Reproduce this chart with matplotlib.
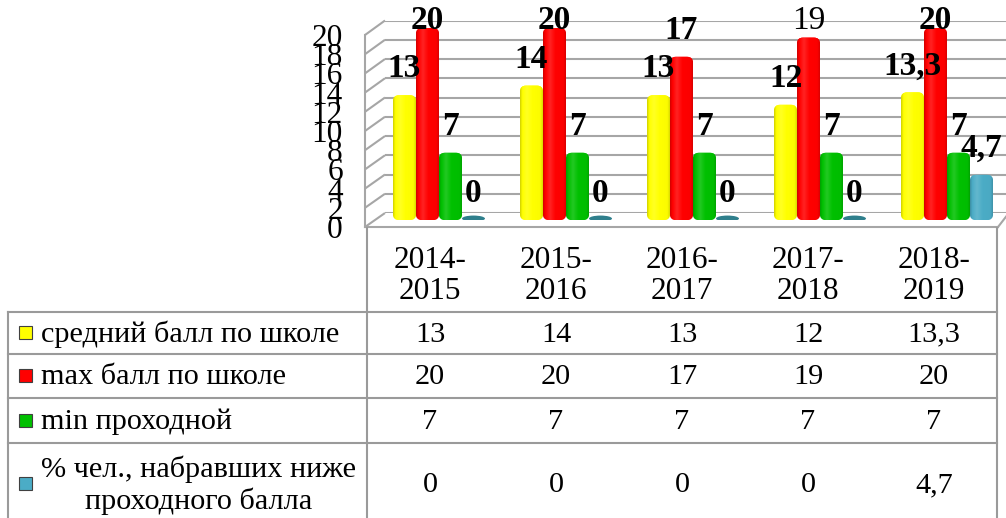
import numpy as np
import matplotlib
matplotlib.use("Agg")
import matplotlib.pyplot as plt
from matplotlib.patches import FancyBboxPatch, Ellipse, Rectangle
from matplotlib.colors import to_rgb

# ---------------- data ----------------
years = ["2014-\n2015", "2015-\n2016", "2016-\n2017", "2017-\n2018", "2018-\n2019"]
series_names = ["средний балл по школе", "max балл по школе", "min проходной",
                "% чел., набравших ниже\nпроходного балла"]
avg_score = [13, 14, 13, 12, 13.3]
max_score = [20, 20, 17, 19, 20]
min_pass = [7, 7, 7, 7, 7]
pct_below = [0, 0, 0, 0, 4.7]
series = [avg_score, max_score, min_pass, pct_below]
colors = ["#FFFF00", "#FF0000", "#00C000", "#4BACC6"]
yticks = list(range(0, 21, 2))
ymax = 20


def fmt(v):
    s = ("%g" % v)
    return s.replace(".", ",")

# data label weights (the "19" label is regular in the original)
label_bold = [[True] * 5, [True, True, True, False, True], [True] * 5, [True] * 5]

plt.rcParams["font.family"] = ["Liberation Serif", "DejaVu Serif"]

W, H = 1006, 518
fig = plt.figure(figsize=(W / 100, H / 100), dpi=100)
fig.patch.set_facecolor("white")


def rect(l, t, r, b):
    """pixel box -> figure fraction [left, bottom, width, height]"""
    return [l / W, 1 - b / H, (r - l) / W, (b - t) / H]


GRID = "#A6A6A6"
TBL = "#9A9A9A"
FS = 21.8
TFS = 22.5
LFS = 24

# overlay axes in pixel coordinates (walls / table lines)
ov = fig.add_axes([0, 0, 1, 1], zorder=0)
ov.set_xlim(0, W)
ov.set_ylim(H, 0)
ov.axis("off")

# back wall with gridlines
front0, front20 = 227, 35
back0, back20 = 213, 20.5
wall = fig.add_axes(rect(385, back20, W + 2, back0), zorder=1)
wall.set_ylim(0, ymax)
wall.set_xlim(0, 1)
wall.set_yticks(yticks)
wall.grid(axis="y", color=GRID, lw=1.5)
wall.tick_params(left=False, labelleft=False, bottom=False, labelbottom=False)
for s in wall.spines.values():
    s.set_visible(False)
wall.patch.set_alpha(0)

# side wall diagonals
for v in yticks:
    yf = front0 + (front20 - front0) * v / ymax
    yb = back0 + (back20 - back0) * v / ymax
    ov.plot([365, 385], [yf, yb], color=GRID, lw=1.5, solid_capstyle="butt")
# floor front edge and right side
ov.plot([365, 998], [front0, front0], color=GRID, lw=1.5)
ov.plot([998, 1012], [front0, back0 - 4], color=GRID, lw=1.5)

# front axis with tick labels
fa = fig.add_axes(rect(365, front20, 366, front0), zorder=2)
fa.set_ylim(0, ymax)
fa.set_yticks(yticks)
fa.set_yticklabels([str(v) for v in yticks], fontsize=TFS)
fa.tick_params(axis="y", length=0, pad=16)
fa.set_xticks([])
for k, s in fa.spines.items():
    s.set_visible(k == "left")
fa.spines["left"].set_color(GRID)
fa.spines["left"].set_linewidth(1.5)
fa.patch.set_alpha(0)

# bars
n = len(years)
grp_px = 127.0
x0_px = 439.0
bar_bottom, bar_top = 220, 28
ax = fig.add_axes(rect(x0_px - grp_px / 2, bar_top, x0_px - grp_px / 2 + grp_px * n, bar_bottom), zorder=3)
ax.set_xlim(-0.5, n - 0.5)
ax.set_ylim(0, ymax)
ax.axis("off")
ax.patch.set_alpha(0)

bw = 23 / grp_px
px_per_y = (bar_bottom - bar_top) / ymax
aspect = grp_px / px_per_y
xs = np.arange(n)


def shade_map(c):
    c = np.array(to_rgb(c))
    t = np.linspace(0, 1, 64)
    dark = c * 0.82
    light = c + (1 - c) * 0.18
    prof = np.interp(t, [0, 0.1, 0.3, 0.55, 0.9, 1], [0, 0.6, 0.9, 0.6, 0.55, 0.1])
    img = np.zeros((1, 64, 3))
    for i, p in enumerate(prof):
        if p < 0.6:
            img[0, i] = dark + (c - dark) * (p / 0.6)
        else:
            img[0, i] = c + (light - c) * ((p - 0.6) / 0.4)
    return np.clip(img, 0, 1)


for j, (vals, col) in enumerate(zip(series, colors)):
    off = (j - 1.5) * bw
    bars = ax.bar(xs + off, vals, width=bw, color=col, linewidth=0)
    img = shade_map(col)
    for i, b in enumerate(bars):
        b.set_visible(False)
        x, y, w, h = b.get_x(), b.get_y(), b.get_width(), b.get_height()
        if h > 0:
            r = 6 / grp_px
            p = FancyBboxPatch((x, y), w, h, boxstyle="round,pad=0,rounding_size=%f" % r,
                               mutation_aspect=aspect, fc=col, ec="none", zorder=3)
            ax.add_patch(p)
            im = ax.imshow(img, extent=(x, x + w, y, y + h), aspect="auto", zorder=4,
                           interpolation="bilinear")
            im.set_clip_path(p)
        else:
            e = Ellipse((x + w / 2, 0.15), w, 6 / px_per_y, fc="#2F7F8C", ec="none", zorder=4)
            ax.add_patch(e)
        v = vals[i]
        ly = min(v + 2.75, ymax + 0.75)
        ax.text(x + w / 2, ly, fmt(v), ha="center", va="center", fontsize=LFS,
                fontweight="bold" if label_bold[j][i] else "normal", clip_on=False, zorder=6)
ax.set_xlim(-0.5, n - 0.5)
ax.set_ylim(0, ymax)

# ---------------- data table ----------------
col_l, col_w = 367, 126
tbl_l, tbl_r = 8, col_l + col_w * n
row_edges = [228, 312, 354, 398, 443, 530]

ov.plot([col_l, col_l], [row_edges[0], H + 5], color=TBL, lw=1.5)
ov.plot([tbl_r, tbl_r], [row_edges[0], H + 5], color=TBL, lw=1.5)
ov.plot([tbl_l, tbl_l], [row_edges[1], H + 5], color=TBL, lw=1.5)
for yy in row_edges[1:5]:
    ov.plot([tbl_l, tbl_r], [yy, yy], color=TBL, lw=1.5)

for i, yl in enumerate(years):
    ov.text(col_l + col_w * (i + 0.5), 276, yl,
            ha="center", va="center", fontsize=TFS, linespacing=1.1)

for j, (name, vals, col) in enumerate(zip(series_names, series, colors)):
    yc = (row_edges[j + 1] + row_edges[j + 2]) / 2
    if j == 3:
        yc = 484
    ov.add_patch(Rectangle((19, yc - 7), 13, 13, fc=col, ec="#404040", lw=0.8))
    ov.text(41, yc + 1.5, name, ha="left", va="center", fontsize=FS,
            multialignment="center", linespacing=1.2)
    for i, v in enumerate(vals):
        ov.text(col_l + col_w * (i + 0.5), yc + 1.5, fmt(v), ha="center", va="center", fontsize=FS)

fig.savefig("out.png", dpi=100, facecolor="white")
